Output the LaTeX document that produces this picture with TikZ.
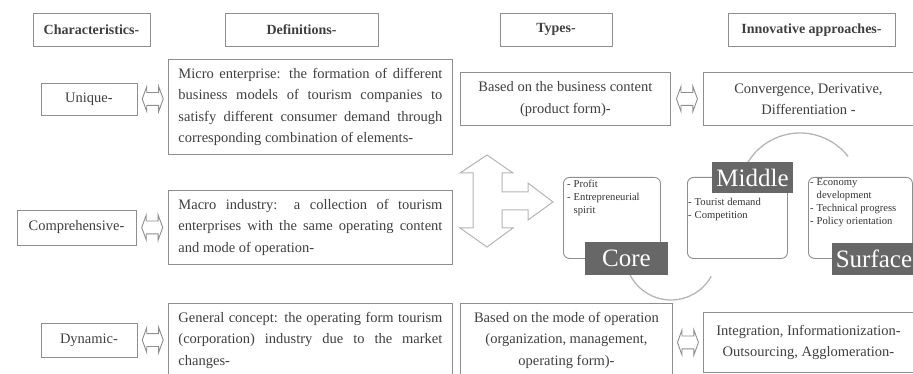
\documentclass[tikz,border=0pt]{standalone}
\usepackage{fontspec}
\setmainfont{Liberation Serif}
\usetikzlibrary{positioning, calc, shapes.arrows}

\definecolor{boxgray}{HTML}{8E8E8E}
\definecolor{txtgray}{HTML}{3F3F3F}
\definecolor{labelgray}{HTML}{676767}
\definecolor{arcgray}{HTML}{B5B5B5}
\newcommand{\boxtextfont}{\fontsize{14.5}{21.3}\selectfont}
\hyphenpenalty=10000
\tolerance=9999

\begin{document}
\begin{tikzpicture}[x=1pt, y=-1pt,
        every node/.style={text=txtgray},
        headbox/.style={draw=boxgray, line width=0.9pt, font=\bfseries\fontsize{14}{16}\selectfont, minimum height=33pt, inner sep=0pt},
        charbox/.style={draw=boxgray, line width=0.9pt, font=\boxtextfont, inner sep=0pt},
        defbox/.style={draw=boxgray, line width=0.9pt, font=\boxtextfont, text width=264pt, align=justify, inner xsep=10pt, inner ysep=9pt, anchor=north west},
        typebox/.style={draw=boxgray, line width=0.9pt, font=\boxtextfont, align=center, inner sep=0pt, anchor=north west},
        dblarrow/.style={double arrow, draw=boxgray, line width=0.9pt, inner xsep=0pt, inner ysep=6pt, minimum height=21pt, double arrow head extend=6pt, double arrow tip angle=140},
        layerbox/.style={draw=boxgray, line width=0.9pt, rounded corners=6pt, anchor=north west, inner sep=0pt},
        layerlabel/.style={fill=labelgray, text=white, font=\fontsize{25}{25}\selectfont, inner sep=0pt},
        bulletlist/.style={font=\fontsize{10.6}{13}\selectfont, text=black!80, anchor=north west, inner sep=0pt, align=left}
    ]
    \useasboundingbox (0,0) rectangle (913,374);
    \clip (0,0) rectangle (913,374);

    % Column headers
    \node[headbox, minimum width=117pt] (hchar) at (91.5,29.5) {Characteristics-};
    \node[headbox, minimum width=153pt] (hdef) at (301.5,29.5) {Definitions-};
    \node[headbox, minimum width=112pt] (htype) at (556,29.5) {Types-};
    \node[headbox, minimum width=167pt] (hinno) at (811.5,30) {Innovative approaches-};

    % Characteristics
    \node[charbox, minimum width=96pt, minimum height=32pt] (unique) at (89,99) {Unique-};
    \node[charbox, minimum width=119pt, minimum height=35pt] (compr) at (76.5,227.5) {Comprehensive-};
    \node[charbox, minimum width=96pt, minimum height=34pt] (dynamic) at (89,340) {Dynamic-};

    % Definitions
    \node[defbox] (micro) at (168,59) {Micro enterprise: the formation of different business models of tourism companies to satisfy different consumer demand through corresponding combination of elements-};
    \node[defbox] (macro) at (168,190) {Macro industry: a collection of tourism enterprises with the same operating content and mode of operation-};
    \node[defbox] (general) at (168,303) {General concept: the operating form tourism (corporation) industry due to the market changes-};

    % Types and approaches
    \node[typebox, minimum width=210pt, minimum height=53pt] (content) at (460,72) {Based on the business content\\(product form)-};
    \node[typebox, minimum width=212pt, inner ysep=9pt] (mode) at (460,303) {Based on the mode of operation\\(organization, management,\\operating form)-};
    \node[typebox, minimum width=210pt, minimum height=53pt] (converge) at (703,72) {Convergence, Derivative,\\Differentiation -};
    \node[typebox, minimum width=210pt, minimum height=60pt] (integrate) at (703,312) {Integration, Informationization-\\Outsourcing, Agglomeration-};

    % Double arrows between the boxes
    \node[dblarrow] (arrunique) at ($(unique.east)!0.5!(unique.east -| micro.west)$) {};
    \node[dblarrow] (arrcompr) at ($(compr.east)!0.5!(compr.east -| macro.west)$) {};
    \node[dblarrow] (arrdynamic) at ($(dynamic.east)!0.5!(dynamic.east -| general.west)$) {};
    \node[dblarrow] (arrcontent) at ($(content.east |- converge.west)!0.5!(converge.west)$) {};
    \node[dblarrow] (arrmode) at ($(mode.east |- integrate.west)!0.5!(integrate.west)$) {};

    % Three-headed arrow
    \draw[draw=arcgray, line width=1pt, fill=white]
        (487,155) -- (513,173) -- (502,173) -- (502,192) -- (528,192) -- (528,183)
        -- (553,202) -- (528,220) -- (528,210) -- (502,210) -- (502,228) -- (513,228)
        -- (487,247) -- (460,228) -- (473,228) -- (473,173) -- (460,173) -- cycle;

    % Arcs behind the layers
    \draw[arcgray, line width=1.3pt] (671,254) ++(160:46) arc[start angle=160, end angle=29, radius=46];
    \draw[arcgray, line width=1.3pt] (800,194) ++(-150:61) arc[start angle=-150, end angle=-38, radius=61];

    % Layers
    \node[layerbox, minimum width=97pt, minimum height=81pt] (core) at (563,177) {};
    \node[layerbox, minimum width=100pt, minimum height=81pt] (middle) at (687,177) {};
    \node[layerbox, minimum width=104pt, minimum height=81pt] (surface) at (808,177) {};

    \node[bulletlist] (coretxt) at (567,178) {\begin{tabular}{@{}l@{\hspace{3pt}}l@{}}-&Profit\\-&Entrepreneurial\\&spirit\end{tabular}};
    \node[bulletlist] (middletxt) at (688,196) {\begin{tabular}{@{}l@{\hspace{3pt}}l@{}}-&Tourist demand\\-&Competition\end{tabular}};
    \node[bulletlist] (surfacetxt) at (810,176) {\begin{tabular}{@{}l@{\hspace{3pt}}l@{}}-&Economy\\&development\\-&Technical progress\\-&Policy orientation\end{tabular}};

    \node[layerlabel, minimum width=83pt, minimum height=33pt] (corelbl) at (626.5,258.5) {Core};
    \node[layerlabel, minimum width=81pt, minimum height=31pt] (middlelbl) at (752.5,177.5) {Middle};
    \node[layerlabel, minimum width=84pt, minimum height=32pt] (surfacelbl) at (874,259) {Surface};
\end{tikzpicture}
\end{document}
